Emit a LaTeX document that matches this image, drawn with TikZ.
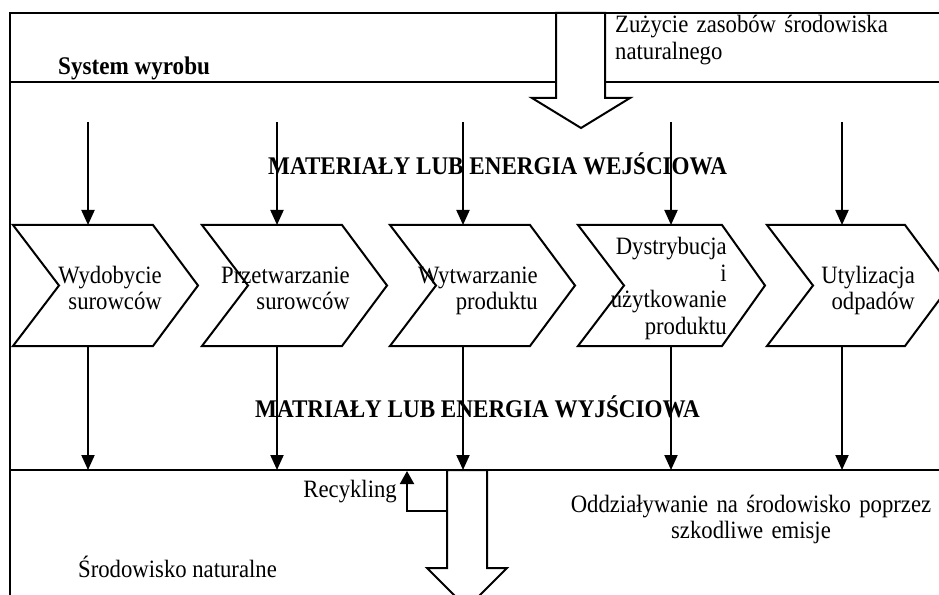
\documentclass[tikz,border=0pt]{standalone}
\usepackage{fontspec}
\setmainfont{Liberation Serif}[FakeStretch=0.91]
\usetikzlibrary{arrows.meta}
\begin{document}
\begin{tikzpicture}[x=1bp,y=-1bp,
  frame/.style={line width=2.4bp},
  chev/.style={line width=2bp, line join=miter},
  flow/.style={line width=2bp, -{Triangle[length=15bp,width=13bp]}},
  bigarrow/.style={line width=2bp, fill=white, line join=miter},
  txt/.style={inner sep=0pt, font=\fontsize{25.05}{26.5}\selectfont},
  btxt/.style={inner sep=0pt, font=\fontsize{25.5}{26.5}\selectfont\bfseries},
]
\clip (0,0) rectangle (939,595);
% frame
\draw[frame] (950,13) -- (10,13) -- (10,600);
\draw[frame] (10,82) -- (950,82);
\draw[frame] (10,470) -- (950,470);
% big arrows
\draw[bigarrow] (556,13) -- (556,98) -- (532,98) -- (581,128) -- (630,98) -- (605,98) -- (605,13) -- cycle;
\draw[bigarrow] (447,470) -- (447,568) -- (427,568) -- (467,608) -- (507,568) -- (487,568) -- (487,470) -- cycle;
% texts
\node[btxt, anchor=base west] (sys) at (58,75) {System wyrobu};
\node[txt, text width=320bp, align=left, anchor=base west] (zuz) at (615,33) {Zużycie zasobów środowiska\\naturalnego};
\node[btxt, anchor=base west] (min) at (268,175) {MATERIAŁY LUB ENERGIA WEJŚCIOWA};
\node[btxt, anchor=base west] (mout) at (255,417) {MATRIAŁY LUB ENERGIA WYJŚCIOWA};
\node[txt, text width=390bp, align=center, anchor=base] (oddz) at (751,512) {Oddziaływanie na środowisko poprzez\\szkodliwe emisje};
\node[txt, anchor=base west] (srod) at (78,577) {Środowisko naturalne};
\node[txt, anchor=base east] (rec) at (397,497) {Recykling};
% chevrons
\foreach \L/\R/\T in {13/153/198, 202/342/387, 390/530/575, 578/722/765, 767/905/950}{
  \draw[chev] (\L,225) -- (\R,225) -- (\T,285.5) -- (\R,346) -- (\L,346) -- (\L+46,285.5) -- cycle;
}
\node[txt, text width=150bp, align=right, anchor=base east] (p1) at (162,283) {Wydobycie\\surowców};
\node[txt, text width=150bp, align=right, anchor=base east] (p2) at (350,283) {Przetwarzanie\\surowców};
\node[txt, text width=150bp, align=right, anchor=base east] (p3) at (538,283) {Wytwarzanie\\produktu};
\node[txt, text width=150bp, align=right, anchor=base east] (p4) at (727,255) {Dystrybucja\\i\\użytkowanie\\produktu};
\node[txt, text width=150bp, align=right, anchor=base east] (p5) at (915,283) {Utylizacja\\odpadów};
% connector end points
\foreach \i/\x in {1/88, 2/277, 3/463, 4/671, 5/842}{
  \coordinate (s\i) at (\x,122);
  \coordinate (ct\i) at (\x,225);
  \coordinate (cb\i) at (\x,346);
  \coordinate (e\i) at (\x,470);
  \draw[flow] (s\i) -- (ct\i);
  \draw[flow] (cb\i) -- (e\i);
}
% recycling
\coordinate (rs) at (447,511);
\coordinate (re) at (407,471);
\draw[flow, -{Triangle[length=13bp,width=14bp]}] (rs) -| (re);
\end{tikzpicture}
\end{document}
